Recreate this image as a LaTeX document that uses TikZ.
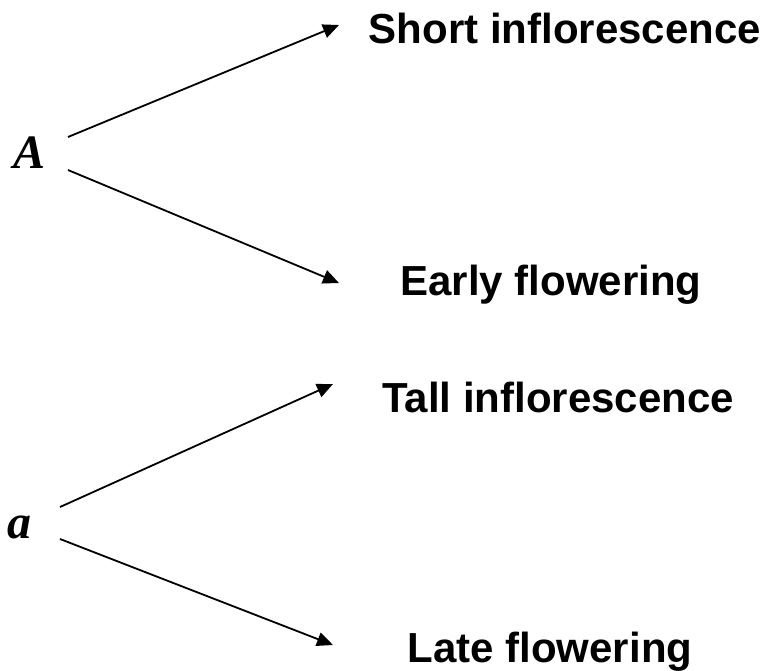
\documentclass[tikz,border=0pt]{standalone}
\usepackage{fontspec}
\setmainfont{Liberation Sans}
\newfontfamily\allelefont{Liberation Serif}
\usetikzlibrary{arrows.meta}
\begin{document}
\begin{tikzpicture}[x=1pt,y=-1pt,
  trait/.style={font=\fontsize{42}{50}\selectfont\bfseries, anchor=base, inner sep=0pt},
  allele/.style={font=\allelefont\fontsize{48}{56}\selectfont\bfseries\itshape, anchor=base west, inner sep=0pt},
  conn/.style={line width=1.8pt, -{Triangle[length=16pt,width=14pt]}}]
\useasboundingbox (0,0) rectangle (771,670);
\node[allele] (A) at (13,168) {A};
\node[allele] (a) at (7,538) {a};
\node[trait] (short) at (565,43) {Short inflorescence};
\node[trait] (early) at (551,295) {Early flowering};
\node[trait] (tall) at (558,412) {Tall inflorescence};
\node[trait] (late) at (550,662) {Late flowering};
\coordinate (A1) at (68,137);
\coordinate (A2) at (68,170);
\coordinate (S1) at (339,25);
\coordinate (E1) at (339,283);
\coordinate (a1) at (60,507);
\coordinate (a2) at (60,539);
\coordinate (T1) at (333,384);
\coordinate (L1) at (333,645);
\draw[conn] (A1) -- (S1);
\draw[conn] (A2) -- (E1);
\draw[conn] (a1) -- (T1);
\draw[conn] (a2) -- (L1);
\end{tikzpicture}
\end{document}
